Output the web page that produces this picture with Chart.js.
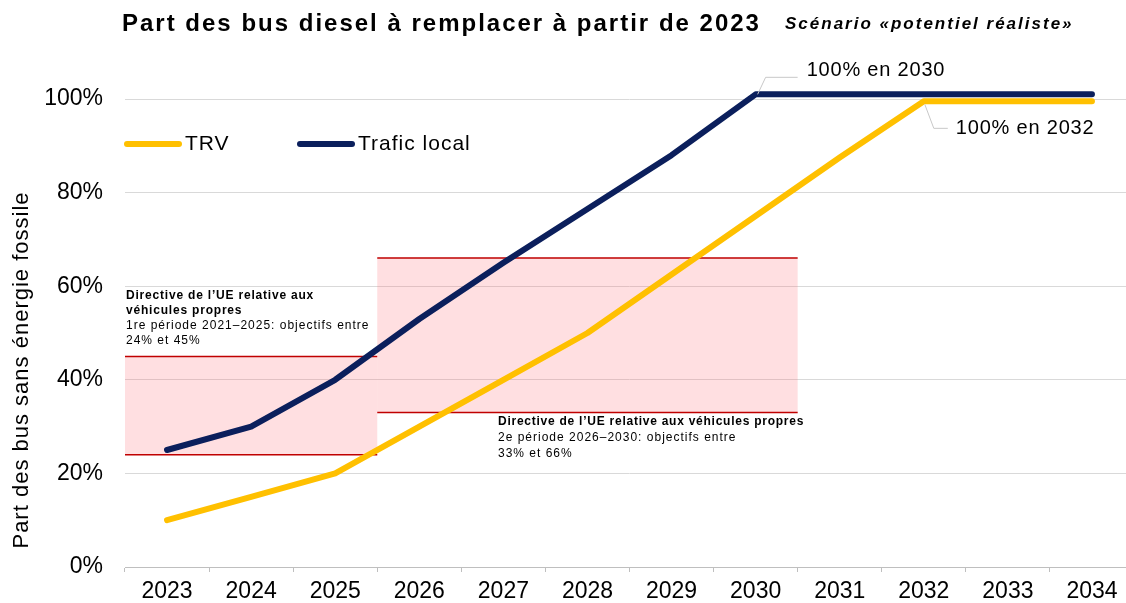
<!DOCTYPE html>
<html>
<head>
<meta charset="utf-8">
<script src="https://cdn.jsdelivr.net/npm/chart.js@4/dist/chart.umd.min.js"></script>
<style>
  html, body { margin: 0; padding: 0; background: #fff; overflow: hidden; }
  #wrap { width: 1134px; height: 603px; }
</style>
</head>
<body>
<div id="wrap"><canvas id="c"></canvas></div>
<script>
// data
const years = ['2023','2024','2025','2026','2027','2028','2029','2030','2031','2032','2033','2034'];
const trv = [10, 15, 20, 30, 40, 50, 62.5, 75, 87.5, 99.5, 99.5, 99.5];
const traficLocal = [25, 30, 40, 53, 65, 76.5, 88, 101, 101, 101, 101, 101];
const yTicks = [0, 20, 40, 60, 80, 100];

// EU directive periods (x in category index, y in %)
const periodFrom = [-0.5, 2.5];
const periodTo = [2.5, 7.5];
const periodLow = [24, 33];
const periodHigh = [45, 66];

const FONT = "'Liberation Sans', Arial, sans-serif";

function txt(ctx, s, x, y, font, spacing) {
  ctx.font = font;
  ctx.letterSpacing = (spacing || 0) + 'px';
  ctx.fillText(s, x, y);
  ctx.letterSpacing = '0px';
}

const overlay = {
  id: 'overlay',
  beforeDatasetsDraw(chart) {
    const {ctx, scales: {x, y}} = chart;
    ctx.save();
    for (let i = 0; i < periodFrom.length; i++) {
      const x0 = x.getPixelForValue(periodFrom[i]);
      const x1 = x.getPixelForValue(periodTo[i]);
      const yt = y.getPixelForValue(periodHigh[i]);
      const yb = y.getPixelForValue(periodLow[i]);
      ctx.fillStyle = 'rgba(255, 110, 120, 0.22)';
      ctx.fillRect(x0, yt, x1 - x0, yb - yt);
      ctx.strokeStyle = '#c00000';
      ctx.lineWidth = 1.5;
      ctx.beginPath();
      ctx.moveTo(x0, yt); ctx.lineTo(x1, yt);
      ctx.moveTo(x0, yb); ctx.lineTo(x1, yb);
      ctx.stroke();
    }
    ctx.restore();
  },
  afterDraw(chart) {
    const {ctx, scales: {x, y}} = chart;
    ctx.save();
    ctx.fillStyle = '#000';
    ctx.textBaseline = 'middle';
    ctx.textAlign = 'left';

    // title
    txt(ctx, 'Part des bus diesel à remplacer à partir de 2023', 122, 24, "bold 24px " + FONT, 2);
    txt(ctx, 'Scénario «potentiel réaliste»', 785, 24, "italic bold 17px " + FONT, 2);

    // y title
    ctx.save();
    ctx.translate(22, 370);
    ctx.rotate(-Math.PI / 2);
    ctx.textAlign = 'center';
    txt(ctx, 'Part des bus sans énergie fossile', 0, 0, "22px " + FONT, 1);
    ctx.restore();

    // legend
    const items = [['TRV', '#ffc000', 127], ['Trafic local', '#0b1f5c', 300]];
    ctx.lineCap = 'round';
    items.forEach(([s, col, lx]) => {
      ctx.strokeStyle = col;
      ctx.lineWidth = 6;
      ctx.beginPath();
      ctx.moveTo(lx, 144); ctx.lineTo(lx + 52, 144);
      ctx.stroke();
      txt(ctx, s, lx + 58, 144, "21px " + FONT, 1);
    });
    ctx.lineCap = 'butt';

    // leader labels
    ctx.strokeStyle = '#c8c8c8';
    ctx.lineWidth = 1;
    const p30x = x.getPixelForValue(7), p30y = y.getPixelForValue(traficLocal[7]);
    ctx.beginPath();
    ctx.moveTo(p30x + 2, p30y); ctx.lineTo(p30x + 10, p30y - 17); ctx.lineTo(p30x + 42, p30y - 17);
    ctx.stroke();
    txt(ctx, '100% en 2030', p30x + 51, p30y - 24, "20px " + FONT, 0.8);

    const p32x = x.getPixelForValue(9), p32y = y.getPixelForValue(trv[9]);
    ctx.beginPath();
    ctx.moveTo(p32x + 1, p32y + 3); ctx.lineTo(p32x + 10, p32y + 27); ctx.lineTo(p32x + 24, p32y + 27);
    ctx.stroke();
    txt(ctx, '100% en 2032', p32x + 32, p32y + 27, "20px " + FONT, 0.8);

    // directive notes
    const bold = "bold 12px " + FONT, reg = "12px " + FONT;
    txt(ctx, 'Directive de l\u2019UE relative aux', 126, 296, bold, 0.8);
    txt(ctx, 'véhicules propres', 126, 311, bold, 0.8);
    txt(ctx, '1re période 2021\u20132025: objectifs entre', 126, 326, reg, 1);
    txt(ctx, '24% et 45%', 126, 341, reg, 1);
    txt(ctx, 'Directive de l\u2019UE relative aux véhicules propres', 498, 422, bold, 0.75);
    txt(ctx, '2e période 2026\u20132030: objectifs entre', 498, 438, reg, 1);
    txt(ctx, '33% et 66%', 498, 454, reg, 1);
    ctx.restore();
  }
};

new Chart(document.getElementById('c'), {
  type: 'line',
  data: {
    labels: years,
    datasets: [
      { label: 'Trafic local', data: traficLocal, borderColor: '#0b1f5c', borderWidth: 6, pointRadius: 0, tension: 0, borderJoinStyle: 'round', borderCapStyle: 'round', clip: false },
      { label: 'TRV', data: trv, borderColor: '#ffc000', borderWidth: 6, pointRadius: 0, tension: 0, borderJoinStyle: 'round', borderCapStyle: 'round', clip: false }
    ]
  },
  options: {
    responsive: true,
    maintainAspectRatio: false,
    animation: false,
    events: [],
    layout: { padding: { top: 99, right: 0, left: 0, bottom: 0 } },
    plugins: { legend: { display: false }, tooltip: { enabled: false } },
    scales: {
      x: {
        offset: true,
        grid: { offset: true, drawOnChartArea: false, tickLength: 5, color: '#bfbfbf' },
        border: { color: '#bfbfbf' },
        ticks: { color: '#000', font: { family: FONT, size: 23 }, padding: 6, maxRotation: 0 },
        afterFit: s => { s.height = 36; }
      },
      y: {
        min: 0, max: 100,
        afterBuildTicks: s => { s.ticks = yTicks.map(v => ({ value: v })); },
        grid: { color: '#d9d9d9', drawTicks: false },
        border: { display: false },
        ticks: { color: '#000', font: { family: FONT, size: 23 }, padding: 22, callback: v => v + '%' },
        afterFit: s => { s.width = 125; }
      }
    }
  },
  plugins: [overlay]
});
</script>
</body>
</html>
